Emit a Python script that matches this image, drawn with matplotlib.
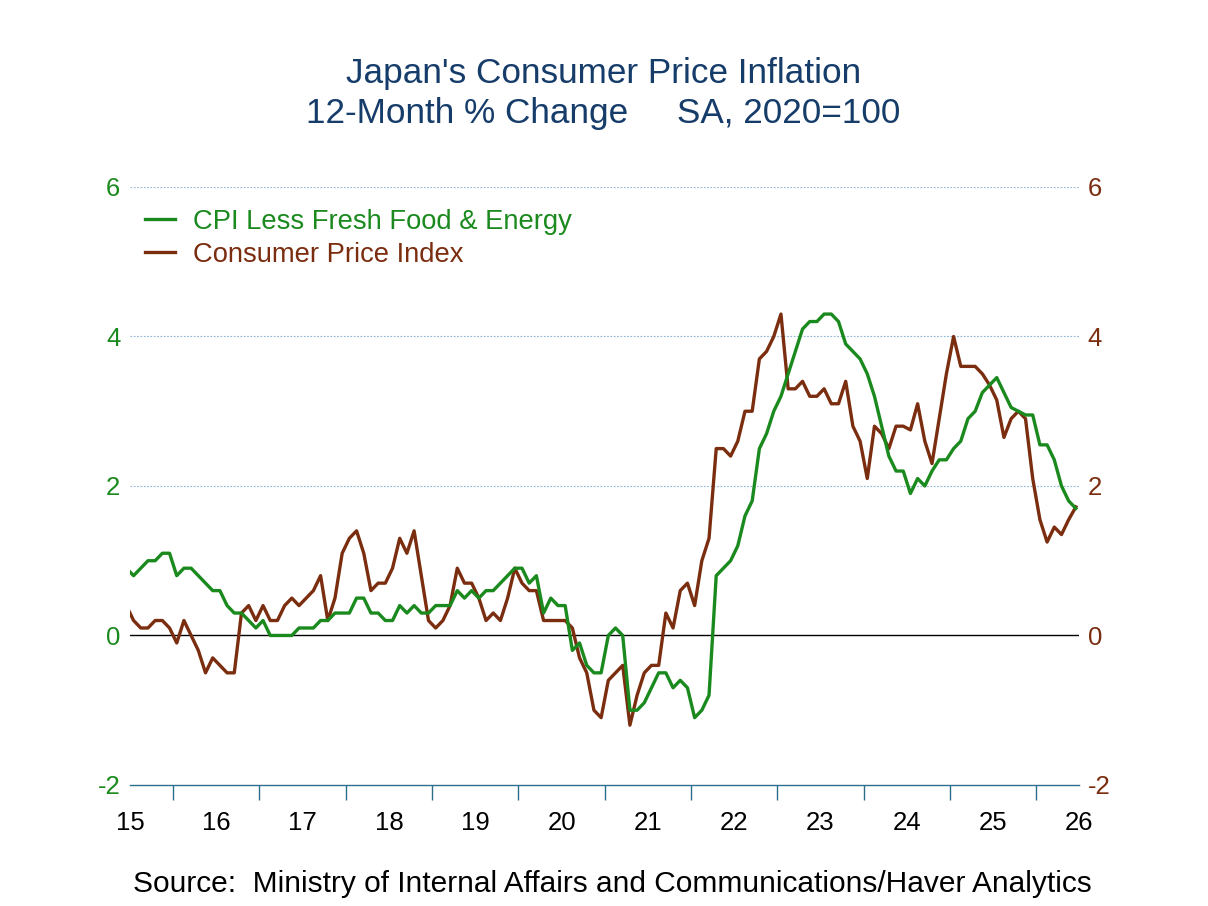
import numpy as np
import pandas as pd
import matplotlib
matplotlib.use('Agg')
import matplotlib.pyplot as plt

plt.rcParams['font.family'] = ['Liberation Sans', 'DejaVu Sans']

# monthly, Jun 2015 .. Jun 2026 (first point falls just left of the axis)
start_month = '2015-06'

# CPI less fresh food & energy, 12-month % change
core_core = [0.9,
             0.8, 0.9, 1.0, 1.0, 1.1, 1.1,
             0.8, 0.9, 0.9, 0.8, 0.7, 0.6, 0.6, 0.4, 0.3, 0.3, 0.2, 0.1,
             0.2, 0.0, 0.0, 0.0, 0.0, 0.1, 0.1, 0.1, 0.2, 0.2, 0.3, 0.3,
             0.3, 0.5, 0.5, 0.3, 0.3, 0.2, 0.2, 0.4, 0.3, 0.4, 0.3, 0.3,
             0.4, 0.4, 0.4, 0.6, 0.5, 0.6, 0.5, 0.6, 0.6, 0.7, 0.8, 0.9,
             0.9, 0.7, 0.8, 0.3, 0.5, 0.4, 0.4, -0.2, -0.1, -0.4, -0.5, -0.5,
             0.0, 0.1, 0.0, -1.0, -1.0, -0.9, -0.7, -0.5, -0.5, -0.7, -0.6, -0.7,
             -1.1, -1.0, -0.8, 0.8, 0.9, 1.0, 1.2, 1.6, 1.8, 2.5, 2.7, 3.0,
             3.2, 3.5, 3.8, 4.1, 4.2, 4.2, 4.3, 4.3, 4.2, 3.9, 3.8, 3.7,
             3.5, 3.2, 2.8, 2.4, 2.2, 2.2, 1.9, 2.1, 2.0, 2.2, 2.35, 2.35,
             2.5, 2.6, 2.9, 3.0, 3.25, 3.35, 3.45, 3.25, 3.05, 3.0, 2.95, 2.95,
             2.55, 2.55, 2.35, 2.0, 1.8, 1.7]

# headline consumer price index, 12-month % change
cpi = [0.4,
       0.2, 0.1, 0.1, 0.2, 0.2, 0.1,
       -0.1, 0.2, 0.0, -0.2, -0.5, -0.3, -0.4, -0.5, -0.5, 0.3, 0.4, 0.2,
       0.4, 0.2, 0.2, 0.4, 0.5, 0.4, 0.5, 0.6, 0.8, 0.2, 0.5, 1.1,
       1.3, 1.4, 1.1, 0.6, 0.7, 0.7, 0.9, 1.3, 1.1, 1.4, 0.8, 0.2,
       0.1, 0.2, 0.4, 0.9, 0.7, 0.7, 0.5, 0.2, 0.3, 0.2, 0.5, 0.9,
       0.7, 0.6, 0.6, 0.2, 0.2, 0.2, 0.2, 0.1, -0.3, -0.5, -1.0, -1.1,
       -0.6, -0.5, -0.4, -1.2, -0.8, -0.5, -0.4, -0.4, 0.3, 0.1, 0.6, 0.7,
       0.4, 1.0, 1.3, 2.5, 2.5, 2.4, 2.6, 3.0, 3.0, 3.7, 3.8, 4.0,
       4.3, 3.3, 3.3, 3.4, 3.2, 3.2, 3.3, 3.1, 3.1, 3.4, 2.8, 2.6,
       2.1, 2.8, 2.7, 2.5, 2.8, 2.8, 2.75, 3.1, 2.6, 2.3, 2.9, 3.5,
       4.0, 3.6, 3.6, 3.6, 3.5, 3.35, 3.15, 2.65, 2.9, 3.0, 2.9, 2.1,
       1.55, 1.25, 1.45, 1.35, 1.55, 1.72]

year_labels = ['15', '16', '17', '18', '19', '20', '21', '22', '23', '24', '25', '26']
y_ticks = [-2, 0, 2, 4, 6]

green = '#1b8a1e'
brown = '#7b2d0f'
navy = '#163c6a'
teal = '#2b6f8c'

dates = pd.date_range(start_month, periods=len(cpi), freq='MS')
t = dates.year + (dates.month - 0.5) / 12.0

fig = plt.figure(figsize=(12.08, 9.06), dpi=100)
ax = fig.add_axes([0.1076, 0.1336, 0.786, 0.66])

l_cpi, = ax.plot(t, cpi, color=brown, lw=2.4, label='Consumer Price Index')
l_core, = ax.plot(t, core_core, color=green, lw=2.4, label='CPI Less Fresh Food & Energy')

ax.set_xlim(2015.5, 2026.5)
ax.set_ylim(-2, 6)

for s in ['top', 'left', 'right']:
    ax.spines[s].set_visible(False)
ax.spines['bottom'].set_color(teal)
ax.spines['bottom'].set_linewidth(1.0)

for g in [2, 4, 6]:
    ax.axhline(g, color='#8fb4d6', lw=0.8, ls=(0, (1.5, 1.5)), zorder=0)
ax.axhline(0, color='black', lw=1.0, zorder=1)

# x axis: tick marks at year boundaries, labels centred in each year
ax.set_xticks(np.arange(2016, 2027))
ax.set_xticklabels([])
ax.set_xticks(np.arange(2015.5, 2027.0, 1.0), minor=True)
ax.set_xticklabels(year_labels, minor=True)
ax.tick_params(axis='x', which='major', length=11, width=1, color=teal, direction='out')
ax.tick_params(axis='x', which='minor', length=0, pad=19, labelsize=18.5, labelcolor='black')

ax.set_yticks(y_ticks)
ax.set_yticklabels([str(v) for v in y_ticks])
ax.tick_params(axis='y', length=0, pad=7, labelsize=18.5, labelcolor=green)

ax2 = ax.twinx()
ax2.set_ylim(-2, 6)
ax2.set_yticks(y_ticks)
ax2.set_yticklabels([str(v) for v in y_ticks])
ax2.tick_params(axis='y', length=0, pad=6, labelsize=18.5, labelcolor=brown)
for s in ax2.spines.values():
    s.set_visible(False)

leg = ax.legend(handles=[l_core, l_cpi], loc='upper left', bbox_to_anchor=(0.0158, 0.964),
                frameon=False, fontsize=19.7, handlelength=1.1, handletextpad=0.65,
                labelspacing=0.27, borderpad=0, borderaxespad=0, labelcolor='linecolor')

fig.text(0.4996, 1 - 74 / 906, "Japan's Consumer Price Inflation", ha='center', va='center',
         fontsize=25.3, color=navy)
fig.text(0.4996, 1 - 114 / 906, '12-Month % Change     SA, 2020=100', ha='center', va='center',
         fontsize=25.3, color=navy)
fig.text(612 / 1208, 1 - 884 / 906,
         'Source:  Ministry of Internal Affairs and Communications/Haver Analytics',
         ha='center', va='center', fontsize=21.5, color='black')

fig.savefig('out.png', dpi=100)
